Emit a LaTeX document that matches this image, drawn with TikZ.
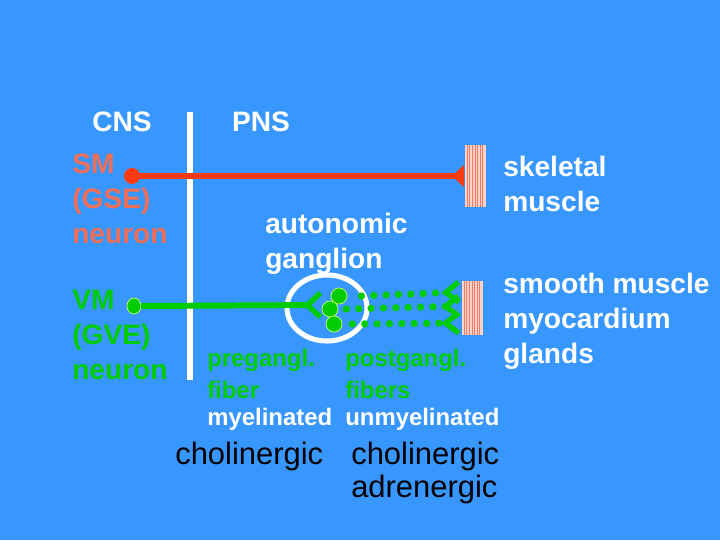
\documentclass[tikz,border=0pt]{standalone}
\usepackage{fontspec}
\setmainfont{Liberation Sans}
\usetikzlibrary{arrows.meta, positioning, shapes.geometric}
\definecolor{SlideBlue}{HTML}{3797FF}
\definecolor{SomRed}{HTML}{FF3A10}
\definecolor{SomText}{HTML}{EE6E58}
\definecolor{VisGreen}{HTML}{00CC00}
\definecolor{CellRim}{HTML}{CCFF66}
\definecolor{MusPink}{HTML}{FFD2C8}
\definecolor{MusStripe}{HTML}{F07A68}

\tikzset{
  lbl/.style={anchor=west, inner sep=0pt, align=left, text=white,
    font=\bfseries\fontsize{20}{25}\selectfont},
  sublbl/.style={anchor=west, inner sep=0pt, align=left,
    font=\bfseries\fontsize{17}{23}\selectfont},
  biglbl/.style={anchor=west, inner sep=0pt, align=left, text=black,
    font=\fontsize{22}{24}\selectfont},
  muscle/.style={fill=MusPink, inner sep=0pt, minimum width=0.525cm,
    path picture={
      \foreach \k in {1,...,7}
        \draw[MusStripe, line width=0.7pt]
          ([xshift=\k*0.066cm]path picture bounding box.south west) --
          ([xshift=\k*0.066cm]path picture bounding box.north west);
    }},
  cell/.style={circle, fill=VisGreen, draw=CellRim, line width=0.5pt,
    minimum size=0.4cm, inner sep=0pt},
  postfib/.style={VisGreen, line width=5.2pt, line cap=round,
    dash pattern=on 0pt off 8.8pt,
    -{Straight Barb[reversed, length=0.32cm, width=0.5cm, line width=3.8pt]}},
}

\begin{document}
\begin{tikzpicture}[x=0.025cm, y=-0.025cm]
  % slide background
  \fill[SlideBlue] (0,0) rectangle (720,540);
  \useasboundingbox (0,0) rectangle (720,540);

  % CNS | PNS border
  \node[lbl, anchor=center] (cns) at (122,122) {CNS};
  \node[lbl, anchor=center] (pns) at (261,122) {PNS};
  \draw[white, line width=4.25pt] (190,112) -- (190,380);

  % somatic motor pathway
  \node[lbl, text=SomText] (sm) at (72,199) {SM\\(GSE)\\neuron};
  \node[circle, fill=SomRed, minimum size=0.4cm, inner sep=0pt] (smdot) at (132,176) {};
  \node[muscle, minimum height=1.55cm] (skmus) at (475,176) {};
  \draw[SomRed, line width=4.25pt,
    -{Triangle[reversed, length=0.3cm, width=0.55cm]}] (smdot.center) -- (skmus.west);
  \node[lbl] (skel) at (503,184) {skeletal\\muscle};

  % visceral motor pathway
  \node[lbl] (auto) at (265,244) {autonomic\\ganglion};
  \node[lbl, text=VisGreen] (vm) at (72,335) {VM\\(GVE)\\neuron};
  \node[ellipse, fill=VisGreen, draw=CellRim, line width=0.5pt,
    minimum width=0.35cm, minimum height=0.4cm, inner sep=0pt] (vmdot) at (134,306) {};
  \node[ellipse, draw=white, line width=3.6pt, minimum width=2cm,
    minimum height=1.65cm] (gang) at (327,308) {};
  \coordinate (gin) at (323,305);
  \draw[VisGreen, line width=4.25pt,
    -{Straight Barb[reversed, length=0.32cm, width=0.6cm, line width=3.8pt]}] (vmdot.east) -- (gin);

  % ganglion cells and postganglionic fibres
  \node[muscle, minimum height=1.35cm] (smmus) at (472,308) {};
  \node[cell] (c1) at (339,296) {};
  \node[cell] (c2) at (330,309) {};
  \node[cell] (c3) at (334,324) {};
  \draw[postfib] ([xshift=0.35cm]c1.east) -- (smmus.west |- 0,292);
  \draw[postfib] ([xshift=0.2cm]c2.east) -- (smmus.west |- 0,306);
  \draw[postfib] ([xshift=0.25cm]c3.east) -- (smmus.west |- 0,323);
  \node[lbl] (smooth) at (503,321) {smooth muscle\\myocardium\\glands};

  % fibre captions
  \node[sublbl, text=VisGreen] (pre) at (207,374) {pregangl.\\fiber};
  \node[sublbl, text=white] (myel) at (207,419) {myelinated};
  \node[sublbl, text=VisGreen] (post) at (345,374) {postgangl.\\fibers};
  \node[sublbl, text=white] (unmyel) at (345,419) {unmyelinated};
  \node[biglbl] (chol1) at (175,456) {cholinergic};
  \node[biglbl] (chol2) at (351,473) {cholinergic\\adrenergic};
\end{tikzpicture}
\end{document}
